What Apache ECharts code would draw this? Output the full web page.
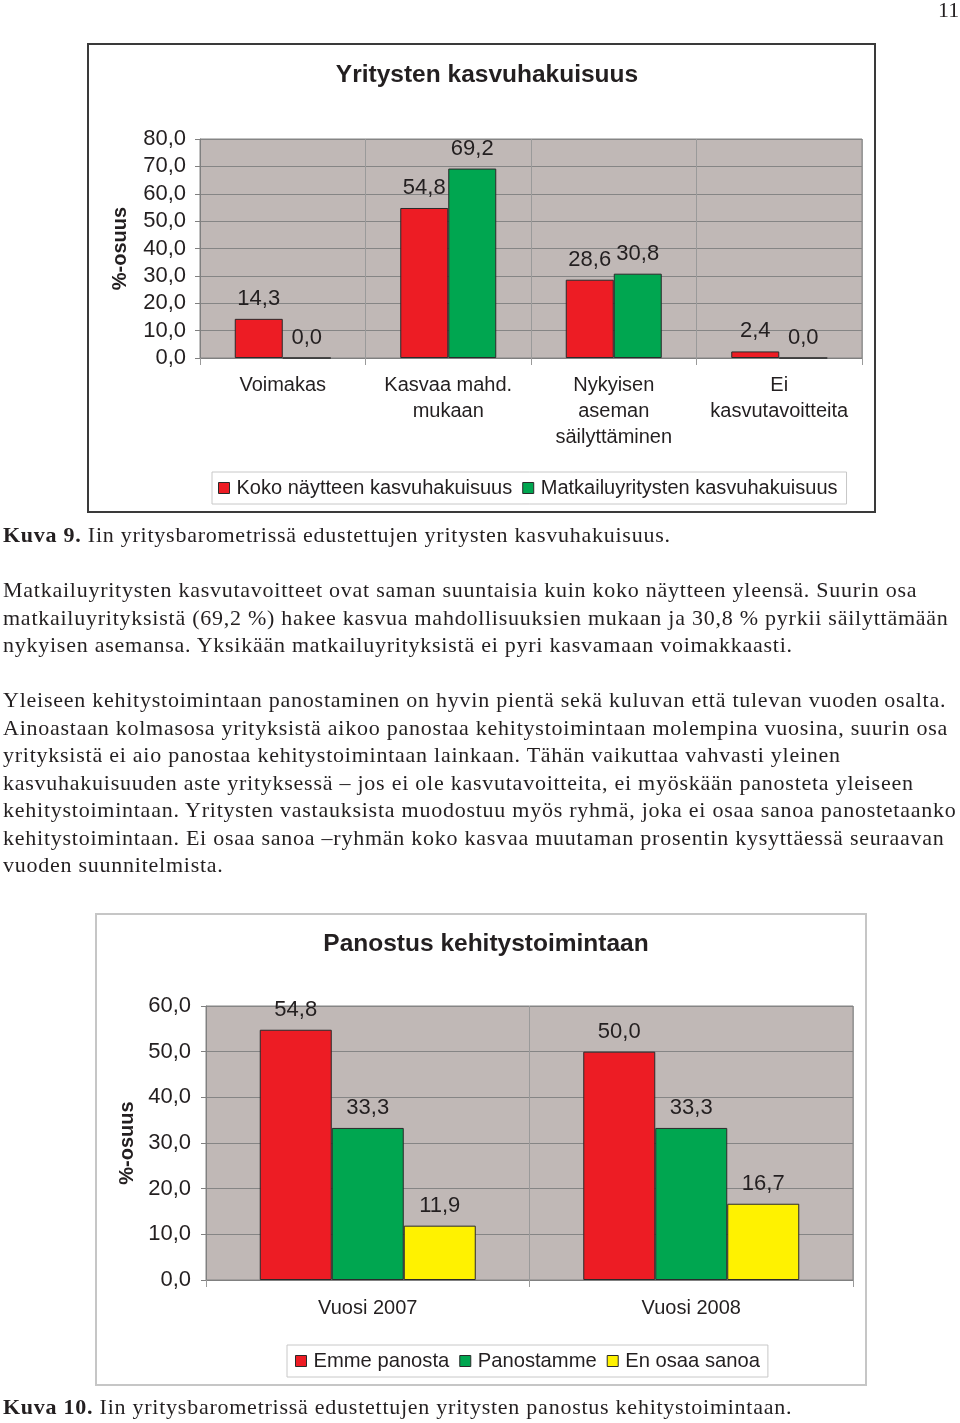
<!DOCTYPE html>
<html><head><meta charset="utf-8">
<script src="https://cdn.jsdelivr.net/npm/echarts@6/dist/echarts.min.js"></script>
<style>
html,body{margin:0;padding:0;background:#fff;}
#page{position:relative;width:960px;height:1423px;overflow:hidden;background:#fff;}
#chart{position:absolute;left:0;top:0;width:960px;height:1423px;}
.box{position:absolute;box-sizing:border-box;}
.t{position:absolute;left:3px;white-space:nowrap;font-family:'Liberation Serif','Times New Roman',serif;font-size:22px;letter-spacing:0.75px;color:#231f20;line-height:27.5px;}
</style></head><body><div id="page">
<div class="box" style="left:87px;top:43px;width:789px;height:470px;border:2px solid #3a3a3a;"></div>
<div class="box" style="left:95px;top:913px;width:772px;height:473px;border:2px solid #c6c6c6;"></div>
<div id="chart"></div>
<div class="t" style="left:938px;top:-4px;letter-spacing:0;">11</div>
<div class="t" style="top:521px"><b>Kuva 9.</b> Iin yritysbarometrissä edustettujen yritysten kasvuhakuisuus.</div>
<div class="t" style="top:576px">Matkailuyritysten kasvutavoitteet ovat saman suuntaisia kuin koko näytteen yleensä. Suurin osa<br>matkailuyrityksistä (69,2 %) hakee kasvua mahdollisuuksien mukaan ja 30,8 % pyrkii säilyttämään<br>nykyisen asemansa. Yksikään matkailuyrityksistä ei pyri kasvamaan voimakkaasti.</div>
<div class="t" style="top:686px">Yleiseen kehitystoimintaan panostaminen on hyvin pientä sekä kuluvan että tulevan vuoden osalta.<br>Ainoastaan kolmasosa yrityksistä aikoo panostaa kehitystoimintaan molempina vuosina, suurin osa<br>yrityksistä ei aio panostaa kehitystoimintaan lainkaan. Tähän vaikuttaa vahvasti yleinen<br>kasvuhakuisuuden aste yrityksessä – jos ei ole kasvutavoitteita, ei myöskään panosteta yleiseen<br>kehitystoimintaan. Yritysten vastauksista muodostuu myös ryhmä, joka ei osaa sanoa panostetaanko<br>kehitystoimintaan. Ei osaa sanoa –ryhmän koko kasvaa muutaman prosentin kysyttäessä seuraavan<br>vuoden suunnitelmista.</div>
<div class="t" style="top:1393px"><b>Kuva 10.</b> Iin yritysbarometrissä edustettujen yritysten panostus kehitystoimintaan.</div>
</div>
<script>
// ---- Data ----
const cats1 = ['Voimakas', 'Kasvaa mahd.\nmukaan', 'Nykyisen\naseman\nsäilyttäminen', 'Ei\nkasvutavoitteita'];
const kokoNayte = [14.3, 54.8, 28.6, 2.4];
const matkailu = [0.0, 69.2, 30.8, 0.0];
const series1Names = ['Koko näytteen kasvuhakuisuus', 'Matkailuyritysten kasvuhakuisuus'];

const cats2 = ['Vuosi 2007', 'Vuosi 2008'];
const emmePanosta = [54.8, 50.0];
const panostamme = [33.3, 33.3];
const enOsaaSanoa = [11.9, 16.7];
const series2Names = ['Emme panosta', 'Panostamme', 'En osaa sanoa'];

const title1 = 'Yritysten kasvuhakuisuus';
const title2 = 'Panostus kehitystoimintaan';
const yName = '%-osuus';

// ---- Style ----
const FF = "'Liberation Sans Narrow','Arial Narrow','Liberation Sans',Arial,sans-serif";
const TXT = '#231f20';
const RED = '#ed1c24', GREEN = '#00a650', YELLOW = '#fff200';
const fmt = v => Number(v).toFixed(1).replace('.', ',');

function yAxis(gi, max, gap, margin) {
  return {
    type: 'value', gridIndex: gi, min: 0, max: max, interval: 10,
    name: yName, nameLocation: 'middle', nameGap: gap, nameRotate: 90,
    nameTextStyle: { fontFamily: FF, fontSize: 20, fontWeight: 'bold', color: TXT },
    axisLine: { show: true, lineStyle: { color: '#808080', width: 1 } },
    axisTick: { show: true, length: 5, lineStyle: { color: '#808080' } },
    axisLabel: { formatter: fmt, fontFamily: FF, fontSize: 22, color: TXT, margin: margin },
    splitLine: { show: true, lineStyle: { color: '#858585', width: 1 } }
  };
}
function xAxis(gi, data, margin) {
  return {
    type: 'category', gridIndex: gi, data: data,
    axisLine: { show: true, lineStyle: { color: '#808080', width: 1 } },
    axisTick: { show: true, length: 7, lineStyle: { color: '#9a9a9a' } },
    axisLabel: { fontFamily: FF, fontSize: 20, color: TXT, margin: margin, lineHeight: 26, interval: 0 },
    splitLine: { show: true, lineStyle: { color: '#9a9a9a', width: 1 } }
  };
}
function bar(name, data, color, xi, w) {
  return {
    name: name, type: 'bar', xAxisIndex: xi, yAxisIndex: xi, data: data,
    barWidth: w, barGap: '0%',
    itemStyle: { color: color, borderColor: '#2a2a2a', borderWidth: 1 },
    label: { show: true, position: 'top', distance: 9, formatter: p => fmt(p.value),
      fontFamily: FF, fontSize: 22, color: TXT },
    emphasis: { disabled: true }
  };
}

const chart = echarts.init(document.getElementById('chart'), null, { renderer: 'canvas' });
chart.setOption({
  animation: false,
  title: [
    { text: title1, left: 482, textAlign: 'center', top: 58,
      textStyle: { fontFamily: FF, fontSize: 24.5, fontWeight: 'bold', color: TXT } },
    { text: title2, left: 481, textAlign: 'center', top: 927,
      textStyle: { fontFamily: FF, fontSize: 24.5, fontWeight: 'bold', color: TXT } }
  ],
  grid: [
    { left: 200, top: 139, width: 662, height: 219, show: true, backgroundColor: '#c0b8b6', borderColor: '#858585', borderWidth: 1 },
    { left: 206, top: 1006, width: 647, height: 274, show: true, backgroundColor: '#c0b8b6', borderColor: '#858585', borderWidth: 1 }
  ],
  xAxis: [xAxis(0, cats1, 14), xAxis(1, cats2, 15)],
  yAxis: [yAxis(0, 80, 70, 14), yAxis(1, 60, 69, 15)],
  legend: [
    { data: series1Names, left: 212, top: 472, orient: 'horizontal', itemWidth: 11, itemHeight: 11, itemGap: 10,
      icon: 'rect', padding: [6, 9, 6, 6], backgroundColor: '#fff', borderColor: '#c8c8c8', borderWidth: 1,
      textStyle: { fontFamily: FF, fontSize: 20, color: TXT, padding: [0, 0, 0, 2] },
      itemStyle: { borderColor: '#2a2a2a', borderWidth: 1 } },
    { data: series2Names, left: 287, top: 1345, orient: 'horizontal', itemWidth: 11, itemHeight: 11, itemGap: 10,
      icon: 'rect', padding: [6, 8, 6, 8], backgroundColor: '#fff', borderColor: '#c8c8c8', borderWidth: 1,
      textStyle: { fontFamily: FF, fontSize: 20.2, color: TXT, padding: [0, 0, 0, 2] },
      itemStyle: { borderColor: '#2a2a2a', borderWidth: 1 } }
  ],
  series: [
    bar(series1Names[0], kokoNayte, RED, 0, 48),
    bar(series1Names[1], matkailu, GREEN, 0, 48),
    bar(series2Names[0], emmePanosta, RED, 1, 72),
    bar(series2Names[1], panostamme, GREEN, 1, 72),
    bar(series2Names[2], enOsaaSanoa, YELLOW, 1, 72)
  ]
});
</script>
</body></html>
